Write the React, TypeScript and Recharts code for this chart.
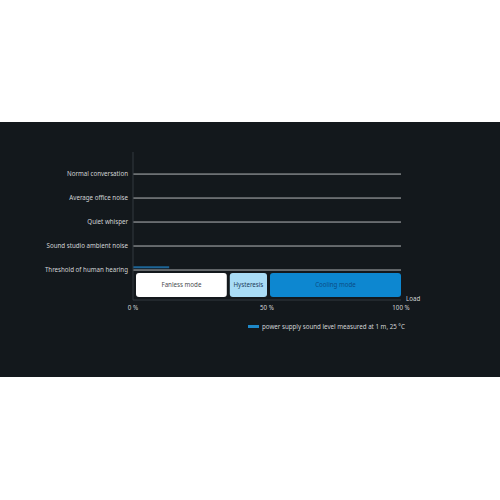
import React from 'react';
import {
  ComposedChart,
  Line,
  XAxis,
  YAxis,
  CartesianGrid,
  ReferenceArea,
  Legend,
} from 'recharts';

const categories = [
  'Threshold of human hearing',
  'Sound studio ambient noise',
  'Quiet whisper',
  'Average office noise',
  'Normal conversation',
];
const levelTicks = [1, 2, 3, 4, 5];
const loadTicks = [0, 50, 100];
const loadPoints = [0, 13.5];
const soundLevel = [1.12, 1.12];
const modeNames = ['Fanless mode', 'Hysteresis', 'Cooling mode'];
const modeStart = [0, 35, 50];
const modeEnd = [35, 50, 100];
const modeLow = -0.125;
const modeHigh = 0.875;
const seriesName = 'power supply sound level measured at 1 m, 25 °C';

const modeFill = ['#ffffff', '#a9dcf6', '#0d87d0'];
const modeText = ['#4a4d50', '#1c3d5c', '#0b4d86'];

const FONT = "'Noto Sans', 'Open Sans', sans-serif";
const BG = '#13181c';
const TEXT = '#d2d4d6';
const FS = 6.2;

const data = loadPoints.map((l, i) => ({ load: l, level: soundLevel[i] }));

const ModeShape = (fill: string) => (props: any) => {
  const { x, y, width, height } = props;
  return (
    <rect
      x={x + 3}
      y={y}
      width={Math.max(0, width - 3)}
      height={height}
      rx={3}
      ry={3}
      fill={fill}
    />
  );
};

const YTick = (props: any) => {
  const { x, y, payload } = props;
  return (
    <text
      x={x}
      y={y}
      dy="0.35em"
      textAnchor="end"
      fill={TEXT}
      fontSize={FS}
      fontFamily={FONT}
    >
      {categories[payload.value - 1]}
    </text>
  );
};

const LegendContent = () => (
  <div
    style={{
      display: 'flex',
      alignItems: 'center',
      height: 12,
      fontFamily: FONT,
      fontSize: FS,
      color: TEXT,
      paddingLeft: 248,
      whiteSpace: 'nowrap',
    }}
  >
    <span
      style={{
        display: 'inline-block',
        width: 11,
        height: 3,
        background: '#1e88c8',
        marginRight: 3,
      }}
    />
    <span>{seriesName}</span>
  </div>
);

const LoadLabel = (props: any) => {
  const vb = props.viewBox || {};
  return (
    <text
      x={vb.x + vb.width + 5}
      y={vb.y + 1}
      fill={TEXT}
      fontSize={FS}
      fontFamily={FONT}
    >
      Load
    </text>
  );
};

export default function App() {
  return (
    <div
      style={{
        position: 'absolute',
        left: 0,
        top: 0,
        width: 500,
        height: 500,
        background: '#ffffff',
      }}
    >
      <div
        style={{
          position: 'absolute',
          left: 0,
          top: 122,
          width: 500,
          height: 255,
          background: BG,
        }}
      >
        <ComposedChart
          width={500}
          height={255}
          data={data}
          margin={{ top: 30, right: 99, left: 8, bottom: 45 }}
        >
          <CartesianGrid
            horizontal
            vertical={false}
            stroke="#b4b7b9"
            strokeWidth={1}
            horizontalValues={levelTicks}
          />
          <XAxis
            type="number"
            dataKey="load"
            domain={[0, 100]}
            ticks={loadTicks}
            tickFormatter={(v: number) => `${v} %`}
            tickLine={false}
            tickSize={0}
            tickMargin={6}
            height={20}
            axisLine={{ stroke: '#33393e' }}
            tick={{ fill: TEXT, fontSize: FS, fontFamily: FONT }}
            interval={0}
            label={<LoadLabel />}
          />
          <YAxis
            type="number"
            domain={[-0.25, 5.92]}
            ticks={levelTicks}
            tickLine={false}
            tickSize={0}
            tickMargin={5}
            width={125}
            axisLine={{ stroke: '#33393e' }}
            tick={<YTick />}
            interval={0}
            allowDataOverflow
          />
          {modeNames.map((name, i) => (
            <ReferenceArea
              key={name}
              x1={modeStart[i]}
              x2={modeEnd[i]}
              y1={modeLow}
              y2={modeHigh}
              shape={ModeShape(modeFill[i])}
              label={{
                value: name,
                position: 'center',
                fill: modeText[i],
                fontSize: FS,
                fontFamily: FONT,
                dx: 1.5,
              }}
              ifOverflow="visible"
            />
          ))}
          <Line
            type="linear"
            dataKey="level"
            name={seriesName}
            stroke="#1d6496"
            strokeWidth={2}
            dot={false}
            activeDot={false}
            isAnimationActive={false}
            legendType="rect"
          />
          <Legend
            verticalAlign="bottom"
            align="left"
            content={<LegendContent />}
            wrapperStyle={{ left: 0, width: 500 }}
          />
        </ComposedChart>
      </div>
    </div>
  );
}
